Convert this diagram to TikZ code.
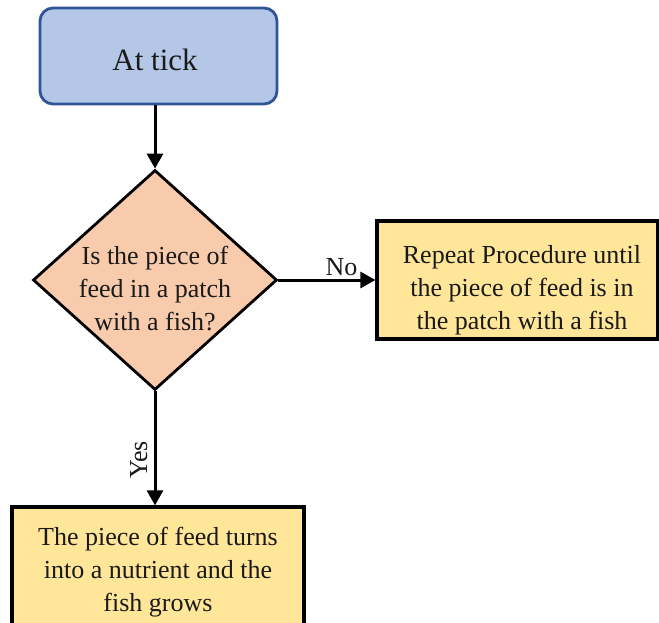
\documentclass[tikz,border=0pt]{standalone}
\usepackage{fontspec}
\setmainfont{Liberation Serif}
\usetikzlibrary{shapes.geometric,arrows.meta}
\definecolor{startfill}{HTML}{B4C7E7}
\definecolor{startdraw}{HTML}{2F5597}
\definecolor{decfill}{HTML}{F8CBAD}
\definecolor{boxfill}{HTML}{FFE699}
\definecolor{txt}{HTML}{1A1A1A}
\begin{document}
\begin{tikzpicture}[x=1pt,y=-1pt,
  every node/.style={text=txt},
  startbox/.style={draw=startdraw,fill=startfill,line width=2.8pt,rounded corners=13pt,
    minimum width=237pt,minimum height=96pt,inner sep=0pt},
  decision/.style={draw=black,fill=decfill,line width=2.8pt,diamond,inner sep=0pt,
    minimum width=244pt,minimum height=220pt},
  qtext/.style={align=center,inner sep=0pt,font=\fontsize{26}{33}\selectfont},
  actbox/.style={draw=black,fill=boxfill,line width=3.2pt,inner sep=0pt},
  flow/.style={draw=black,line width=3pt,-{Triangle[length=15pt,width=16pt]}},
  lbl/.style={inner sep=0pt,font=\fontsize{26}{30}\selectfont}
]
\useasboundingbox (0,0) rectangle (659,623);
\node[startbox] (start) at (158.5,56) {};
\node[inner sep=0pt,font=\fontsize{31}{36}\selectfont] (startt) at (155,60) {At tick};
\node[decision] (q) at (155,280) {};
\node[qtext] (qt) at (155,289) {Is the piece of\\feed in a patch\\with a fish?};
\node[actbox,minimum width=281pt,minimum height=118pt] (rep) at (517.5,280) {};
\node[qtext] (rept) at (522,290) {Repeat Procedure until\\the piece of feed is in\\the patch with a fish};
\node[actbox,minimum width=292pt,minimum height=140pt] (grow) at (158,577) {};
\node[qtext] (growt) at (158,572) {The piece of feed turns\\into a nutrient and the\\fish grows};
\draw[flow] (start.south -| q.north) -- (q.north);
\draw[flow] (q.east) -- node[lbl,above=3pt,pos=0.65] {No} (rep.west);
\draw[flow] (q.south) -- node[lbl,rotate=90,above=6pt,pos=0.6] {Yes} (q.south |- grow.north);
\end{tikzpicture}
\end{document}
